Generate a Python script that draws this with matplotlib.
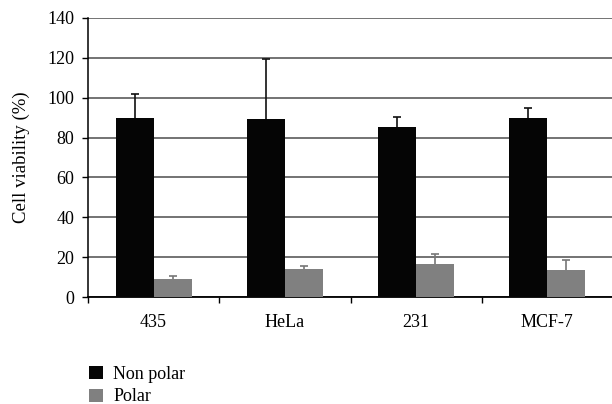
import numpy as np
import matplotlib
matplotlib.use("Agg")
import matplotlib.pyplot as plt

plt.rcParams['font.family'] = ['Liberation Serif', 'DejaVu Serif']

cells = ["435", "HeLa", "231", "MCF-7"]
non_polar = [89.8, 89.5, 85.3, 90.0]
non_polar_err = [12.0, 30.0, 5.0, 4.7]
polar = [8.9, 13.9, 16.4, 13.7]
polar_err = [1.8, 1.7, 5.2, 4.7]

fig = plt.figure(figsize=(6.12, 4.04), dpi=100)
ax = fig.add_axes([88/612, 1-297/404, 525/612, 279/404])

x = np.arange(len(cells))
w = 0.29
zeros = np.zeros(len(cells))
b1 = ax.bar(x - w/2, non_polar, w, color="#050505", zorder=3,
            yerr=[zeros, non_polar_err], capsize=3,
            error_kw=dict(ecolor="#111111", elinewidth=1.2, capthick=1.2, zorder=2))
b2 = ax.bar(x + w/2, polar, w, color="#808080", zorder=3,
            yerr=[zeros, polar_err], capsize=3,
            error_kw=dict(ecolor="#777777", elinewidth=1.2, capthick=1.2, zorder=2))
# only the upper caps are drawn in the original
for b in (b1, b2):
    caps = b.errorbar.lines[1]
    caps[0].set_visible(False)

ax.set_xlim(-0.5, len(cells) - 0.5)
ax.set_ylim(0, 140)
ax.set_yticks(np.arange(0, 141, 20))
ax.set_xticks(x)
ax.set_xticklabels(cells)
ax.set_xticks(np.arange(-0.5, len(cells)), minor=True)
ax.tick_params(axis='x', which='major', length=0, pad=12, labelsize=13)
ax.tick_params(axis='x', which='minor', length=4, width=1, direction='out')
ax.tick_params(axis='y', length=4, width=1, direction='out', labelsize=13, pad=6)

ax.grid(axis='y', color="#4d4d4d", linewidth=1.1, zorder=0)
for s in ['top', 'right']:
    ax.spines[s].set_visible(False)
ax.spines['left'].set_linewidth(1.1)
ax.spines['bottom'].set_linewidth(1.3)
ax.set_ylabel("Cell viability (%)", fontsize=13.5, labelpad=12)

fig.legend([b1, b2], ["Non polar", "Polar"], loc='upper left',
           bbox_to_anchor=(80/612, 1-357/404), frameon=False,
           fontsize=13, handlelength=0.75, handleheight=0.75,
           handletextpad=0.6, labelspacing=0.3, borderpad=0)

fig.savefig("out.png", dpi=100)
